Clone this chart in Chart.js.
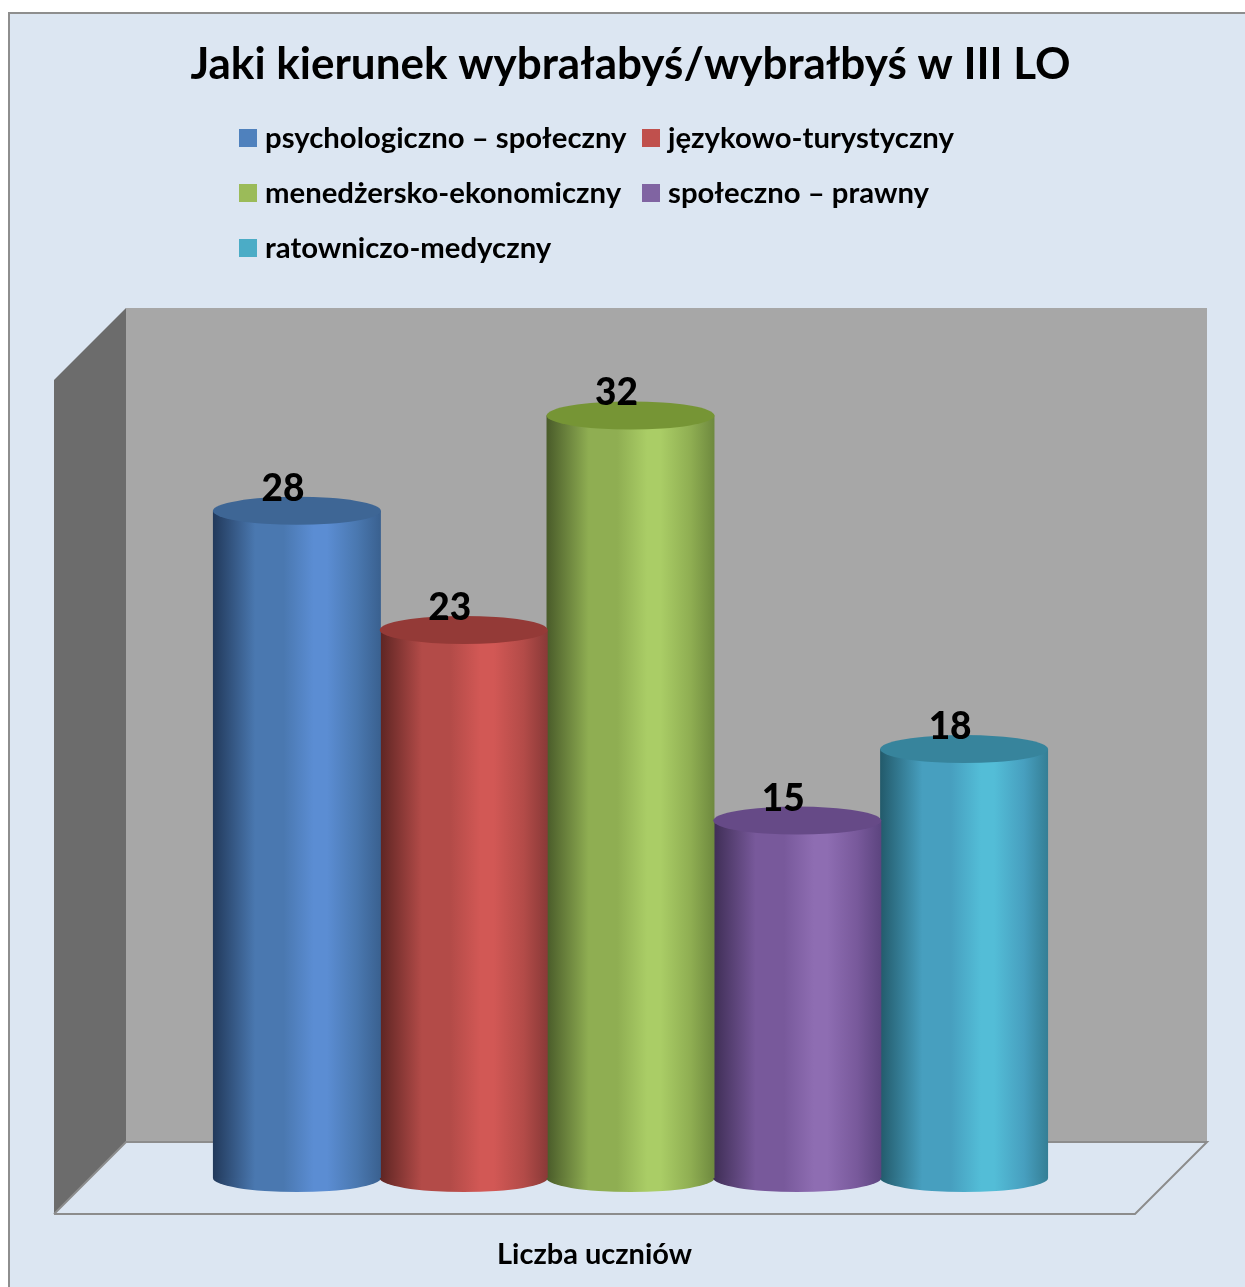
<!DOCTYPE html>
<html lang="pl">
<head>
<meta charset="utf-8">
<title>Jaki kierunek</title>
<script src="https://cdn.jsdelivr.net/npm/chart.js@4/dist/chart.umd.min.js"></script>
<style>
  html, body { margin: 0; padding: 0; background: #fff; overflow: hidden; }
  #panel { position: absolute; left: 8px; top: 12px; width: 1260px; height: 1300px;
           background: #DCE6F2; border: 2px solid #8E8E8E; box-sizing: border-box; }
  #chart { position: absolute; left: 0; top: 0; }
  #legend { position: absolute; left: 239px; top: 109px; display: grid;
            grid-template-columns: 403px auto; grid-auto-rows: 55px;
            font: bold 29.3px Lato, sans-serif; color: #000; }
  #legend div { display: flex; align-items: center; white-space: nowrap; }
  #legend i { display: block; width: 18px; height: 18px; margin-right: 8px; flex: none; position: relative; top: 1px; }
</style>
</head>
<body>
<div id="panel"></div>
<canvas id="chart" width="1245" height="1287"></canvas>
<div id="legend"></div>
<script>
const chartTitle = 'Jaki kierunek wybrałabyś/wybrałbyś w III LO';
const axisLabel = 'Liczba uczniów';
const categories = ['Liczba uczniów'];
const seriesNames = ['psychologiczno – społeczny', 'językowo-turystyczny', 'menedżersko-ekonomiczny', 'społeczno – prawny', 'ratowniczo-medyczny'];
const seriesValues = [28, 23, 32, 15, 18];

const legendColors = ['#4F81BD', '#C0504D', '#9BBB59', '#8064A2', '#4BACC6'];
// left edge, middle, highlight, right edge of each cylinder
const shades = [
  ['#223A5C', '#4A78B0', '#5B8DD3', '#3A6190'],
  ['#5E2523', '#B34B48', '#D25855', '#8A3A38'],
  ['#4A5C2A', '#8FAE52', '#AACD66', '#6F8A3F'],
  ['#3F2E56', '#78599B', '#8E6DB2', '#5D4580'],
  ['#235B6C', '#479FBF', '#53BDD7', '#357F96']
];
const capColors = ['#3E6695', '#943A37', '#769535', '#664A87', '#37849C'];

const depth = 36;
const groupShare = 0.7715;
const titleSize = 44;

function cylinderFill(i) {
  return function (context) {
    const chart = context.chart;
    const area = chart.chartArea;
    if (!area) return legendColors[i];
    const w = area.width * groupShare / seriesValues.length;
    const left = (area.left + area.right) / 2 - w * seriesValues.length / 2 + w * i;
    return sideGradient(chart.ctx, left, w, i);
  };
}

function sideGradient(ctx, left, w, i) {
  const g = ctx.createLinearGradient(left, 0, left + w, 0);
  g.addColorStop(0, shades[i][0]);
  g.addColorStop(0.25, shades[i][1]);
  g.addColorStop(0.42, shades[i][1]);
  g.addColorStop(0.6, shades[i][2]);
  g.addColorStop(0.68, shades[i][2]);
  g.addColorStop(0.86, shades[i][1]);
  g.addColorStop(1, shades[i][3]);
  return g;
}

// grey box behind the bars: back wall, side wall and floor
const wallsPlugin = {
  id: 'walls',
  beforeDatasetsDraw(chart) {
    const { ctx, chartArea: a } = chart;
    const x0 = a.left - depth, x1 = a.left + depth, x2 = a.right - depth, x3 = a.right + depth;
    const top = a.top - depth, backBottom = a.bottom - depth, frontBottom = a.bottom + depth;
    ctx.save();
    ctx.fillStyle = '#A7A7A7';
    ctx.fillRect(x1, top, x3 - x1, backBottom - top);
    ctx.fillStyle = '#6C6C6C';
    ctx.beginPath();
    ctx.moveTo(x1, top);
    ctx.lineTo(x0, a.top + depth);
    ctx.lineTo(x0, frontBottom);
    ctx.lineTo(x1, backBottom);
    ctx.closePath();
    ctx.fill();
    ctx.strokeStyle = '#8C8C8C';
    ctx.lineWidth = 2;
    ctx.beginPath();
    ctx.moveTo(x0, frontBottom);
    ctx.lineTo(x2, frontBottom);
    ctx.lineTo(x3, backBottom);
    ctx.lineTo(x1, backBottom);
    ctx.lineTo(x0, frontBottom);
    ctx.stroke();
    ctx.restore();
  }
};

// round ends of the cylinders, value labels and the axis label
const cylinderPlugin = {
  id: 'cylinder',
  afterDatasetsDraw(chart) {
    const { ctx, chartArea: a } = chart;
    const ry = 14;
    ctx.save();
    chart.data.datasets.forEach(function (ds, i) {
      const bar = chart.getDatasetMeta(i).data[0];
      const left = bar.x - bar.width / 2;
      ctx.fillStyle = sideGradient(ctx, left, bar.width, i);
      ctx.beginPath();
      ctx.ellipse(bar.x, a.bottom, bar.width / 2, ry, 0, 0, Math.PI);
      ctx.fill();
      ctx.fillStyle = capColors[i];
      ctx.beginPath();
      ctx.ellipse(bar.x, bar.y, bar.width / 2, ry, 0, 0, Math.PI * 2);
      ctx.fill();
    });
    ctx.fillStyle = '#000';
    ctx.textAlign = 'center';
    ctx.textBaseline = 'middle';
    ctx.font = '900 37px Lato, sans-serif';
    chart.data.datasets.forEach(function (ds, i) {
      const bar = chart.getDatasetMeta(i).data[0];
      ctx.fillText(String(ds.data[0]), bar.x - 14, bar.y - 22);
    });
    ctx.font = 'bold 29px Lato, sans-serif';
    ctx.fillText(axisLabel, (a.left + a.right) / 2 - depth, a.bottom + 77);
    ctx.restore();
  }
};

const datasets = seriesNames.map(function (name, i) {
  return {
    label: name,
    data: [seriesValues[i]],
    backgroundColor: cylinderFill(i),
    borderWidth: 0,
    categoryPercentage: groupShare,
    barPercentage: 1.007
  };
});

const chart = new Chart(document.getElementById('chart'), {
  type: 'bar',
  data: { labels: categories, datasets: datasets },
  options: {
    responsive: false,
    devicePixelRatio: 1,
    animation: false,
    layout: { padding: { left: 90, right: 74, top: 38, bottom: 109 } },
    scales: {
      x: { display: false },
      y: { display: false, min: 0, max: 35 }
    },
    plugins: {
      legend: { display: false },
      tooltip: { enabled: false },
      title: {
        display: true,
        text: chartTitle,
        color: '#000',
        font: { family: 'Lato, sans-serif', size: titleSize, weight: 'bold', lineHeight: 1.2 },
        padding: { top: 0, bottom: 344 - 38 - titleSize * 1.2 }
      }
    }
  },
  plugins: [wallsPlugin, cylinderPlugin]
});

// legend sits in two aligned columns, which the built-in one can't do
const legendEl = document.getElementById('legend');
chart.data.datasets.forEach(function (ds, i) {
  const item = document.createElement('div');
  const box = document.createElement('i');
  box.style.background = legendColors[i];
  item.appendChild(box);
  item.appendChild(document.createTextNode(ds.label));
  legendEl.appendChild(item);
});
</script>
</body>
</html>
